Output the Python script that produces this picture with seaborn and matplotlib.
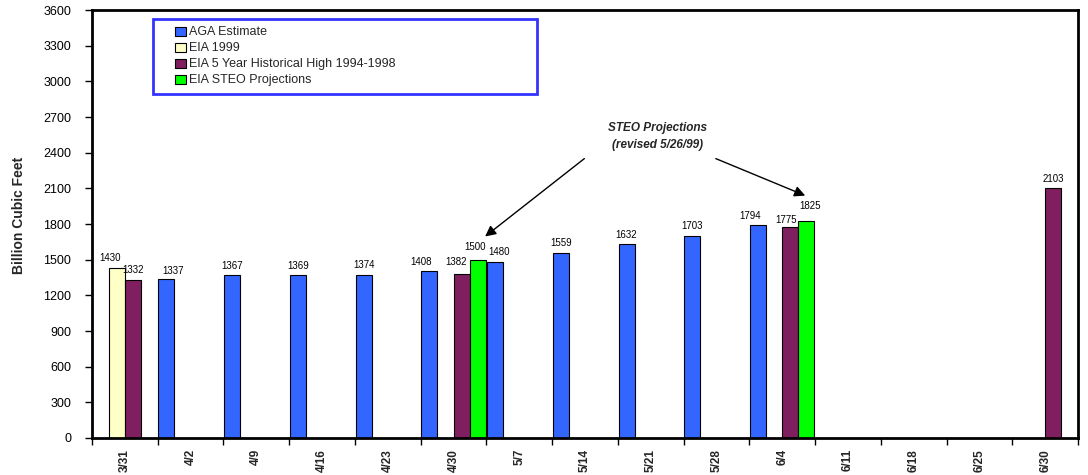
import matplotlib
matplotlib.use("Agg")
import matplotlib.pyplot as plt
from matplotlib.patches import Rectangle
from matplotlib.legend_handler import HandlerPatch
import seaborn as sns
import pandas as pd
import numpy as np

# ---- data ----
categories = ["3/31", "4/2", "4/9", "4/16", "4/23", "4/30", "5/7", "5/14",
              "5/21", "5/28", "6/4", "6/11", "6/18", "6/25", "6/30"]
series_names = ["AGA Estimate", "EIA 1999",
                "EIA 5 Year Historical High 1994-1998", "EIA STEO Projections"]

aga_dates = ["4/2", "4/9", "4/16", "4/23", "4/30", "5/7", "5/14", "5/21", "5/28", "6/4"]
aga_values = [1337, 1367, 1369, 1374, 1408, 1480, 1559, 1632, 1703, 1794]
eia1999_dates = ["3/31"]
eia1999_values = [1430]
hist_dates = ["3/31", "4/30", "6/4", "6/30"]
hist_values = [1332, 1382, 1775, 2103]
steo_dates = ["4/30", "6/4"]
steo_values = [1500, 1825]

colors = ["#3366FF", "#FFFFC8", "#7F1F5F", "#00FF00"]
y_ticks = list(range(0, 3601, 300))

rows = []
for name, ds, vs in zip(series_names,
                        [aga_dates, eia1999_dates, hist_dates, steo_dates],
                        [aga_values, eia1999_values, hist_values, steo_values]):
    for d, v in zip(ds, vs):
        rows.append({"date": d, "series": name, "value": v})
df = pd.DataFrame(rows)

# ---- style ----
sns.set_theme(style="white")
plt.rcParams["font.family"] = ["Liberation Sans", "DejaVu Sans"]

fig = plt.figure(figsize=(10.88, 4.75), dpi=100)
ax = fig.add_axes([92 / 1088, (475 - 438) / 475, 986 / 1088, 428 / 475])

sns.barplot(data=df, x="date", y="value", hue="series", order=categories,
            hue_order=series_names, palette=colors, width=0.98, gap=0,
            dodge=True, edgecolor="black", linewidth=0.8, saturation=1,
            errorbar=None, ax=ax, legend=True)

# ---- axes ----
ax.set_xlim(-0.5, len(categories) - 0.5)
ax.set_ylim(0, 3600)
ax.set_yticks(y_ticks)
ax.set_yticklabels([str(t) for t in y_ticks], fontsize=9)
ax.tick_params(axis="y", direction="out", length=5, width=1, color="black",
               left=True, pad=10, labelcolor="black")
ax.set_xticks(range(len(categories)))
ax.set_xticklabels(categories, rotation=90, fontsize=8.5, fontweight="bold",
                   va="top")
ax.set_xticks(np.arange(-0.5, len(categories)), minor=True)
ax.tick_params(axis="x", which="major", length=0, pad=8, bottom=True)
ax.tick_params(axis="x", which="minor", length=5, width=1, color="black",
               bottom=True, direction="out")
ax.set_xlabel("")
ax.set_ylabel("Billion Cubic Feet", fontsize=10, fontweight="bold")
ax.yaxis.set_label_coords(-0.067, 0.52)
for s in ax.spines.values():
    s.set_visible(True)
    s.set_color("black")
    s.set_linewidth(2)
ax.grid(False)

# ---- value labels ----
nudges = {  # (category, series) -> (dx, dy) in points
    ("3/31", "EIA 1999"): (-5, 2),
    ("4/2", "AGA Estimate"): (5, 1),
    ("4/30", "AGA Estimate"): (-6, 1),
    ("4/30", "EIA 5 Year Historical High 1994-1998"): (-4, 3),
    ("4/30", "EIA STEO Projections"): (-2, 4),
    ("5/7", "AGA Estimate"): (3, 2),
    ("6/4", "AGA Estimate"): (-6, 1),
    ("6/4", "EIA 5 Year Historical High 1994-1998"): (-3, 0),
    ("6/4", "EIA STEO Projections"): (3, 6),
}
for name, cont in zip(series_names, ax.containers):
    for p in cont.patches:
        h = p.get_height()
        if not np.isfinite(h) or h <= 0:
            continue
        cx = p.get_x() + p.get_width() / 2
        cat = categories[int(round(cx))]
        dx, dy = nudges.get((cat, name), (0, 1.5))
        ax.annotate(f"{int(round(h))}", xy=(cx, h), xytext=(dx, dy + 1.5),
                    textcoords="offset points", ha="center", va="bottom",
                    fontsize=7, color="black")


# ---- legend ----
def small_square(legend, orig_handle, xdescent, ydescent, width, height, fontsize):
    side = height * 1.05
    return Rectangle((width - side * 1.15 - xdescent, -ydescent - 0.5),
                     side * 1.15, side)


handles, labels = ax.get_legend_handles_labels()
leg = ax.legend(handles, labels, loc="upper left",
                bbox_to_anchor=(0.062, 0.979, 0.389, 0.0), mode="expand",
                borderaxespad=0, fontsize=9, frameon=True, fancybox=False,
                handlelength=2.0, handleheight=0.75, handletextpad=0.3,
                labelspacing=0.32, borderpad=0.6,
                handler_map={Rectangle: HandlerPatch(patch_func=small_square)})
leg.get_frame().set_edgecolor("#0000FF")
leg.get_frame().set_linewidth(2)
for h in leg.legend_handles:
    h.set_edgecolor("black")
    h.set_linewidth(0.8)

# ---- annotation ----
ax.text(8.11, 2610, "STEO Projections", ha="center", va="center",
        fontsize=8.5, fontweight="bold", fontstyle="italic")
ax.text(8.11, 2467, "(revised 5/26/99)", ha="center", va="center",
        fontsize=8.5, fontweight="bold", fontstyle="italic")
arrow = dict(arrowstyle="-|>", color="black", lw=1, mutation_scale=16,
             shrinkA=0, shrinkB=0)
ax.annotate("", xy=(5.48, 1695), xytext=(6.99, 2350), arrowprops=arrow)
ax.annotate("", xy=(10.35, 2039), xytext=(8.99, 2350), arrowprops=arrow)

fig.savefig("out.png", dpi=100)
